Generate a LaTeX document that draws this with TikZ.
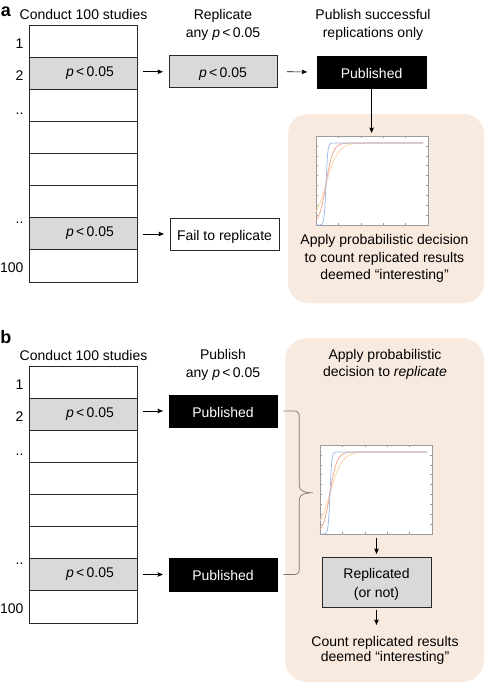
\documentclass[tikz,border=0pt]{standalone}
\usepackage{fontspec}
\setmainfont{Liberation Sans}
\usetikzlibrary{arrows.meta,calc}
\definecolor{peach}{RGB}{249,234,224}
\definecolor{cellgray}{RGB}{217,217,217}
\definecolor{cblue}{RGB}{160,185,235}
\definecolor{cred}{RGB}{240,165,138}
\definecolor{corange}{RGB}{252,214,165}
\definecolor{framegray}{RGB}{155,155,155}
\definecolor{edge}{RGB}{40,40,40}
\definecolor{bracecol}{RGB}{120,120,120}
\newcommand{\pv}{\textit{p}\,<\,0.05}
\newcommand{\sigplot}[1]{%
  \begin{scope}[shift={(#1.north west)}]
    \foreach \k in {1,...,4} {
      \draw[framegray, line width=0.5pt] ({22.4*\k},0) -- ++(0,2);
      \draw[framegray, line width=0.5pt] ({22.4*\k},89) -- ++(0,-2);
    }
    \foreach \k in {1,...,8} {
      \draw[framegray, line width=0.5pt] (0,{89*\k/9}) -- ++(2,0);
      \draw[framegray, line width=0.5pt] (112,{89*\k/9}) -- ++(-2,0);
    }
    \draw[corange, curve] plot[domain=0:107, samples=150] (\x, {89-82/(1+exp(-max(min((\x-10)/6,9),-9)))});
    \draw[cred, curve] plot[domain=0:107, samples=200] (\x, {89-82/(1+exp(-max(min((\x-10)/3.5,9),-9)))});
    \draw[cblue, curve] plot[domain=0:107, samples=320] (\x, {89-82/(1+exp(-max(min((\x-10)/0.9,9),-9)))});
  \end{scope}}
\begin{document}
\begin{tikzpicture}[x=1pt,y=-1pt,
  every node/.style={inner sep=0pt, outer sep=0pt},
  txt/.style={font=\fontsize{14}{18}\selectfont},
  cell/.style={draw=edge, line width=0.8pt, minimum width=108pt, minimum height=32.125pt},
  boxbase/.style={draw=edge, line width=0.8pt, minimum height=32pt, font=\fontsize{14}{18}\selectfont, text height=12pt, text depth=0pt},
  graybox/.style={boxbase, fill=cellgray},
  whitebox/.style={boxbase, fill=white},
  blackbox/.style={boxbase, fill=black, draw=black, text=white},
  conn/.style={line width=0.7pt, -{Stealth[length=5.5pt,width=4.5pt,inset=1pt]}},
  plotframe/.style={draw=framegray, line width=0.7pt, fill=white, minimum width=112pt, minimum height=89pt},
  panellabel/.style={font=\fontsize{18}{20}\selectfont\bfseries, anchor=base west},
  rowlabel/.style={txt, anchor=base east},
  curve/.style={line width=0.75pt},
  bracestyle/.style={draw=bracecol, line width=0.7pt}
]
\useasboundingbox (0,0) rectangle (485,685);

% ---------------- panel a ----------------
\fill[peach, rounded corners=20pt] (288,114) rectangle (484,303);
\node[panellabel] (la) at (0.8,16.5) {a};
\node[txt, anchor=base] (ta) at (83.5,19.3) {Conduct 100 studies};
\node[txt, anchor=north, align=center] (tra) at (223,9.4) {Replicate\\any \pv};
\node[txt, anchor=north, align=center] (tpa) at (373,9.4) {Publish successful\\replications only};

\foreach \i/\f in {1/white,2/cellgray,3/white,4/white,5/white,6/white,7/cellgray,8/white}
  \node[cell, fill=\f, anchor=north west] (ra\i) at (29.5,{25+32.125*(\i-1)}) {};

\node[rowlabel] (na1) at (23.5,48.3) {1};
\node[rowlabel] (na2) at (23.5,80.7) {2};
\node[rowlabel] (na3) at (23.5,114) {..};
\node[rowlabel] (na7) at (23.5,223) {..};
\node[rowlabel] (na8) at (23.5,272.7) {100};
\node[txt, anchor=base] (va2) at (90,76.6) {\pv};
\node[txt, anchor=base] (va7) at (90,236.8) {\pv};

\node[graybox, minimum width=108pt] (pA) at (223,71.75) {\pv};
\node[blackbox, minimum width=108.7pt] (pubA) at (371.6,72) {Published};
\node[whitebox, minimum width=109pt] (failA) at (224.5,234) {Fail to replicate};

\node[plotframe] (plA) at (372,180.5) {};
\sigplot{plA}
\node[txt, anchor=north, align=center, font=\fontsize{14}{17.5}\selectfont] (dA) at (384.5,234.8)
  {Apply probabilistic decision\\to count replicated results\\deemed “interesting”};

\draw[conn, shorten <=5.5pt, shorten >=6pt] (pA.west -| ra2.east) -- (pA.west);
\draw[conn, shorten <=10pt, shorten >=10pt] (pA.east) -- (pubA.west);
\draw[conn, shorten >=3pt] (pubA.south) -- (pubA.south |- plA.north);
\draw[conn, shorten <=5.5pt, shorten >=6pt] (failA.west -| ra7.east) -- (failA.west);

% ---------------- panel b ----------------
\fill[peach, rounded corners=22pt] (285,338) rectangle (484,682);
\node[panellabel] (lb) at (0.3,343.3) {b};
\node[txt, anchor=base] (tb) at (83.5,360.3) {Conduct 100 studies};
\node[txt, anchor=north, align=center] (tpb) at (223,349.8) {Publish\\any \pv};
\node[txt, anchor=north, align=center, font=\fontsize{14}{17.5}\selectfont] (tdb) at (385,349.3)
  {Apply probabilistic\\decision to \textit{replicate}};

\foreach \i/\f in {1/white,2/cellgray,3/white,4/white,5/white,6/white,7/cellgray,8/white}
  \node[cell, fill=\f, anchor=north west] (rb\i) at (29.5,{366+32.125*(\i-1)}) {};

\node[rowlabel] (nb1) at (23.5,389.3) {1};
\node[rowlabel] (nb2) at (23.5,421.7) {2};
\node[rowlabel] (nb3) at (23.5,455) {..};
\node[rowlabel] (nb7) at (23.5,564) {..};
\node[rowlabel] (nb8) at (23.5,613) {100};
\node[txt, anchor=base] (vb2) at (90,417.6) {\pv};
\node[txt, anchor=base] (vb7) at (90,577.8) {\pv};

\node[blackbox, minimum width=108pt] (pb1) at (223,411) {Published};
\node[blackbox, minimum width=108pt, minimum height=33pt] (pb2) at (223,574.5) {Published};

\node[plotframe] (plB) at (376,489.5) {};
\sigplot{plB}

\node[draw=edge, fill=cellgray, line width=0.8pt, minimum width=109pt, minimum height=50pt,
      align=center, font=\fontsize{14}{19.4}\selectfont] (rep) at (376.5,582)
  {\rule{0pt}{14.8pt}Replicated\\(or not)};
\node[txt, anchor=north, align=center, font=\fontsize{14}{14.5}\selectfont] (cnt) at (385,636.8)
  {Count replicated results\\deemed “interesting”};

\coordinate (bt) at ($(pb1.east)+(6.3,0)$);
\coordinate (bb) at ($(pb2.east)+(6.3,0)$);
\coordinate (btip) at ($(bt)!0.5!(bb)+(29.7,0)$);
\draw[bracestyle] (bt) -- (294,411) .. controls (297.5,411) and (299.3,413) .. (299.3,416.5)
  -- (299.3,486) .. controls (299.3,490) and (303,492.7) .. (btip)
  .. controls (303,492.8) and (299.3,495.5) .. (299.3,499.5)
  -- (299.3,569) .. controls (299.3,572.5) and (297.5,574.5) .. (294,574.5) -- (bb);

\draw[conn, shorten <=5.5pt, shorten >=6pt] (pb1.west -| rb2.east) -- (pb1.west);
\draw[conn, shorten <=5.5pt, shorten >=6pt] (pb2.west -| rb7.east) -- (pb2.west);
\draw[conn, shorten <=4pt, shorten >=3pt] (rep.north |- plB.south) -- (rep.north);
\draw[conn, shorten <=3pt, shorten >=11.8pt] (rep.south) -- (rep.south |- cnt.north);
\end{tikzpicture}
\end{document}
